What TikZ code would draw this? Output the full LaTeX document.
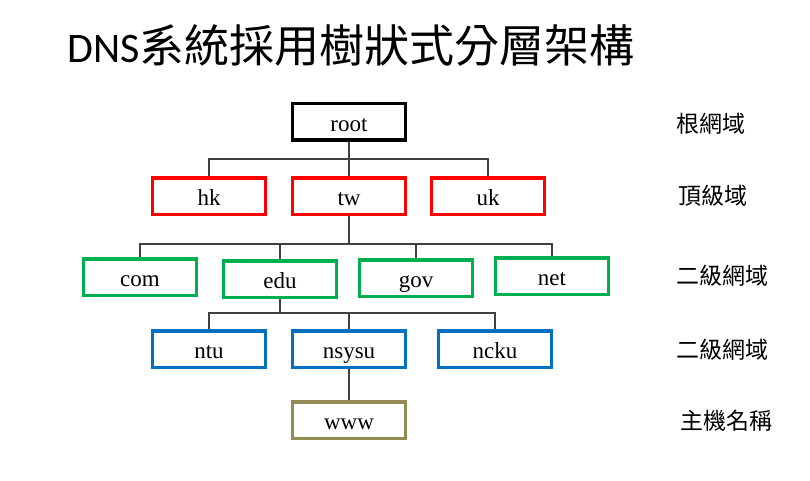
\documentclass[tikz,border=0pt]{standalone}
\usepackage{fontspec}
\setmainfont{Liberation Serif}
\newfontfamily\cjk{Noto Sans CJK TC}
\newfontfamily\titlefont{Carlito}

\definecolor{rootline}{RGB}{0,0,0}
\definecolor{tldline}{RGB}{255,0,0}
\definecolor{sldline}{RGB}{0,176,80}
\definecolor{subline}{RGB}{0,112,192}
\definecolor{hostline}{RGB}{148,138,84}

\tikzset{
  domainbox/.style={
    draw, line width=3.5pt, fill=none,
    minimum width=113pt, minimum height=36.5pt,
    inner sep=0pt, align=center,
    text height=20pt, text depth=1pt,
    font=\fontsize{23}{26}\selectfont
  },
  rootbox/.style={domainbox, draw=rootline},
  tldbox/.style={domainbox, draw=tldline},
  sldbox/.style={domainbox, draw=sldline},
  subbox/.style={domainbox, draw=subline},
  hostbox/.style={domainbox, draw=hostline},
  levellabel/.style={
    anchor=west, inner sep=0pt,
    font=\cjk\fontsize{23}{25}\selectfont
  },
  treeline/.style={draw=black!75, line width=1.1pt},
}

\begin{document}
\begin{tikzpicture}[x=1pt, y=-1pt]

\useasboundingbox (0,0) rectangle (810,481);

%% Title
\node[anchor=west, inner sep=0pt] (title) at (67,45)
  {{\titlefont\fontsize{42}{46}\selectfont DNS}{\cjk\fontsize{45}{48}\selectfont 系統採用樹狀式分層架構}};

%% Root
\node[rootbox] (root) at (349,122) {root};

%% Top level
\node[tldbox] (hk) at (209,196) {hk};
\node[tldbox] (tw) at (349,196) {tw};
\node[tldbox] (uk) at (488,196) {uk};

%% Second level
\node[sldbox] (com) at (140,277) {com};
\node[sldbox] (edu) at (280,279) {edu};
\node[sldbox] (gov) at (416,278) {gov};
\node[sldbox] (net) at (552,276) {net};

%% Under edu
\node[subbox] (ntu)   at (209,349) {ntu};
\node[subbox] (nsysu) at (349,349) {nsysu};
\node[subbox] (ncku)  at (495,349) {ncku};

%% Host
\node[hostbox] (www) at (349,420) {www};

%% Bars
\coordinate (barA) at (349,159);
\coordinate (barB) at (349,244);
\coordinate (barC) at (280,313);

%% Connectors
\draw[treeline] (root.south) -- (tw.north);
\draw[treeline] (hk.north) |- (barA) -| (uk.north);
\draw[treeline] (tw.south) -- (barB);
\draw[treeline] (com.north) |- (barB) -| (net.north);
\draw[treeline] (edu.north) -- (edu.north |- barB);
\draw[treeline] (gov.north) -- (gov.north |- barB);
\draw[treeline] (edu.south) -- (barC);
\draw[treeline] (ntu.north) |- (barC) -| (ncku.north);
\draw[treeline] (nsysu.north) -- (nsysu.north |- barC);
\draw[treeline] (nsysu.south) -- (www.north);

%% Level labels
\node[levellabel] (lvroot) at (676,124) {根網域};
\node[levellabel] (lvtld)  at (678,196) {頂級域};
\node[levellabel] (lvsld)  at (676,276) {二級網域};
\node[levellabel] (lvsub)  at (676,350) {二級網域};
\node[levellabel] (lvhost) at (680,421) {主機名稱};

\end{tikzpicture}
\end{document}
